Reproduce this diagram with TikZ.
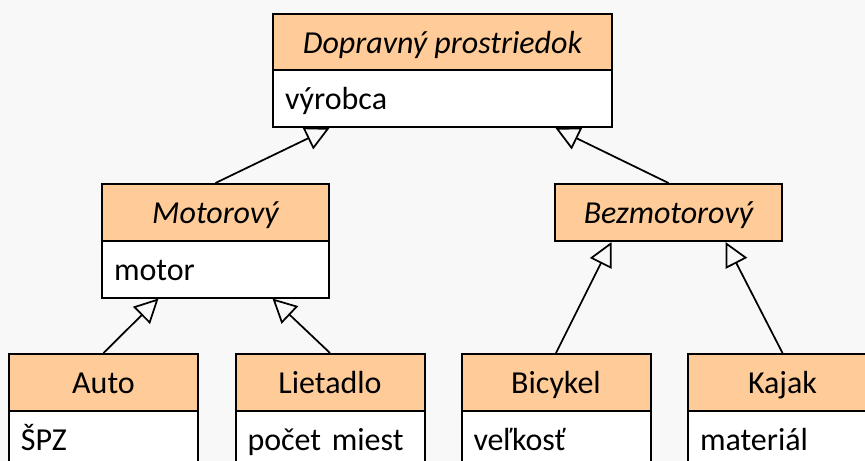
\documentclass[tikz,border=0pt]{standalone}
\usepackage{fontspec}
\setmainfont{Carlito}
\usetikzlibrary{arrows.meta,calc}
\definecolor{peach}{HTML}{FFCC99}
\definecolor{paper}{HTML}{F8F8F8}
\tikzset{
    >={Triangle[open,length=18pt,width=18pt]},
    uml/.style={
        cls/.style={draw,line width=1.5pt,fill=peach,rectangle,inner sep=0pt,minimum width=##1,minimum height=42.75pt,text height=17pt,text depth=0pt,font=\fontsize{24}{29}\selectfont},
        abstract/.style={cls=##1,font=\fontsize{24}{29}\selectfont\itshape},
        attr/.style={draw,line width=1.5pt,fill=white,rectangle,inner xsep=9pt,inner ysep=0pt,text width=##1,minimum height=42.75pt,align=left,text height=17pt,text depth=0pt,font=\fontsize{24}{29}\selectfont},
        gen/.style={draw,line width=1.3pt,->}
    }
}

\begin{document}
\begin{tikzpicture}[uml,x=0.75pt,y=-0.75pt]
    \useasboundingbox (0,0) rectangle (865,461);
    \fill[paper] (0,0) rectangle (865,461);
    \clip (0,0) rectangle (865,461);
    \node[abstract=254.25pt] (dp) at (442.5,42) {Dopravný prostriedok};
    \node[attr=236.25pt] (dpa) at (442.5,98.5) {výrobca};
    \node[abstract=170.25pt] (mot) at (215.5,212.5) {Motorový};
    \node[attr=152.25pt] (mota) at (215.5,269) {motor};
    \node[abstract=170.25pt] (bez) at (668.5,212.5) {Bezmotorový};
    \node[cls=141.75pt] (auto) at (103.5,382.5) {Auto};
    \node[attr=123.75pt] (autoa) at (103.5,439.5) {ŠPZ};
    \node[cls=141.75pt] (liet) at (330,382.5) {Lietadlo};
    \node[attr=123.75pt] (lieta) at (330,439.5) {počet miest};
    \node[cls=141.75pt] (bic) at (556,382.5) {Bicykel};
    \node[attr=123.75pt] (bica) at (556,439.5) {veľkosť};
    \node[cls=141.75pt] (kaj) at (782.5,382.5) {Kajak};
    \node[attr=123.75pt] (kaja) at (782.5,439.5) {materiál};
    \draw[gen] (mot.north) -- ($(dpa.south)+(-113,0)$);
    \draw[gen] (bez.north) -- ($(dpa.south)+(113,0)$);
    \draw[gen] (auto.north) -- ($(mota.south)+(-57,0)$);
    \draw[gen] (liet.north) -- ($(mota.south)+(57,0)$);
    \draw[gen] (bic.north) -- ($(bez.south)+(-57,0)$);
    \draw[gen] (kaj.north) -- ($(bez.south)+(57,0)$);
\end{tikzpicture}
\end{document}
